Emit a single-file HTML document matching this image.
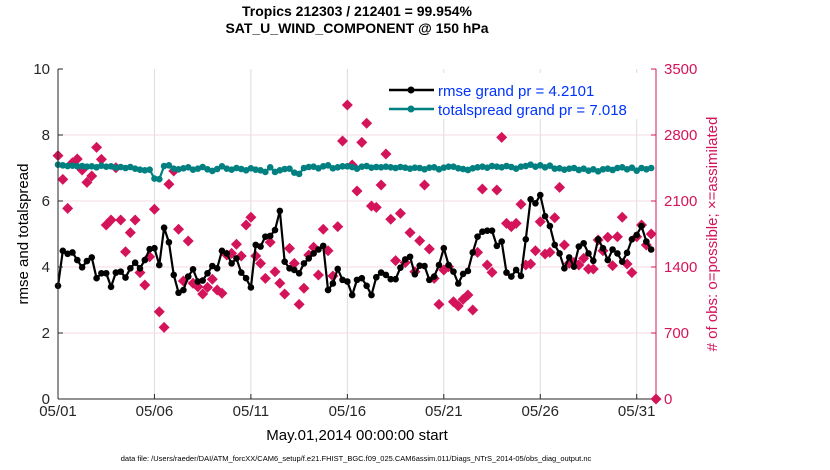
<!DOCTYPE html>
<html><head><meta charset="utf-8"><style>
body{margin:0;background:#fff;}
svg{display:block;font-family:"Liberation Sans",sans-serif;}
</style></head><body>
<svg id="chart" width="830" height="470" viewBox="0 0 830 470" xmlns="http://www.w3.org/2000/svg">
<rect width="830" height="470" fill="#fff"/>
<text x="357" y="16" text-anchor="middle" font-size="14" font-weight="bold">Tropics 212303 / 212401 = 99.954%</text>
<text x="357" y="33" text-anchor="middle" font-size="14" font-weight="bold">SAT_U_WIND_COMPONENT @ 150 hPa</text>
<g id="grid"></g>
<g id="marks"></g>
<g id="axes"></g>
<g>
<rect x="384" y="73" width="268" height="46" fill="#fff"/>
<line x1="389" y1="90" x2="434" y2="90" stroke="#000" stroke-width="2.5"/>
<circle cx="411" cy="90" r="3.5" fill="#000"/>
<text x="438" y="96" font-size="15" fill="#0033ff">rmse grand pr = 4.2101</text>
<line x1="389" y1="109" x2="434" y2="109" stroke="#008080" stroke-width="2.5"/>
<circle cx="411" cy="109" r="3.5" fill="#008080"/>
<text x="438" y="115" font-size="15" fill="#0033ff">totalspread grand pr = 7.018</text>
</g>
<text x="357" y="440" text-anchor="middle" font-size="15">May.01,2014 00:00:00 start</text>
<text transform="translate(28,234) rotate(-90)" text-anchor="middle" font-size="15">rmse and totalspread</text>
<text transform="translate(717,234) rotate(-90)" text-anchor="middle" font-size="15" fill="#d4145a"># of obs: o=possible; ×=assimilated</text>
<text x="356" y="461" text-anchor="middle" font-size="7.5">data file: /Users/raeder/DAI/ATM_forcXX/CAM6_setup/f.e21.FHIST_BGC.f09_025.CAM6assim.011/Diags_NTrS_2014-05/obs_diag_output.nc</text>
</svg>
<script>
const xTickLabels = ["05/01","05/06","05/11","05/16","05/21","05/26","05/31"];
const xTickDays = [0,5,10,15,20,25,30];
const leftTicks = [0,2,4,6,8,10];
const rightTicks = [0,700,1400,2100,2800,3500];
const rmse = [3.43,4.49,4.40,4.44,4.21,3.99,4.18,4.29,3.66,3.81,3.81,3.40,3.83,3.86,3.68,3.96,4.13,3.96,4.21,4.54,4.57,4.06,5.19,4.75,3.76,3.22,3.30,3.71,3.93,3.56,3.59,3.81,4.03,3.96,4.49,4.41,4.11,4.26,3.83,3.66,3.38,4.67,4.62,4.92,4.94,5.12,5.70,4.16,3.96,3.91,3.81,4.11,4.26,4.41,4.53,4.64,3.30,3.50,3.94,3.61,3.56,3.15,3.61,3.66,3.43,3.15,3.69,3.83,3.76,3.63,3.63,3.98,4.23,4.31,3.78,4.04,4.03,3.61,3.71,4.06,4.57,4.06,3.86,3.50,3.79,3.88,4.44,4.92,5.07,5.10,5.10,4.64,4.77,3.83,3.71,3.91,3.73,4.84,6.05,5.93,6.18,5.54,5.24,4.67,4.41,3.96,4.29,4.01,4.62,4.72,4.41,4.19,4.84,4.57,4.21,4.53,4.41,4.16,4.43,4.84,4.97,5.24,4.77,4.53];
const spread = [7.10,7.08,7.06,7.07,7.05,7.06,7.04,7.05,7.02,7.07,7.04,7.05,7.01,7.03,7.00,7.03,6.98,6.95,6.93,6.95,6.68,6.66,7.06,7.08,6.98,6.96,6.99,7.02,6.95,6.98,7.03,6.96,6.91,6.97,7.05,6.98,6.95,7.00,6.97,6.93,6.99,6.95,6.93,6.88,7.02,6.88,6.93,6.97,6.98,6.86,6.82,7.00,7.03,7.04,6.99,7.05,7.08,6.99,7.02,7.05,7.05,7.03,6.98,7.04,7.06,7.01,7.03,7.02,7.04,7.02,7.00,7.03,7.01,6.98,7.01,7.00,6.96,7.01,7.02,6.96,7.01,7.04,7.04,6.99,6.97,6.94,6.99,7.02,7.04,7.01,7.06,7.04,7.02,7.06,7.03,6.98,7.04,7.06,7.10,7.04,7.08,7.02,7.07,6.98,6.99,6.95,6.98,7.00,6.94,6.98,6.92,6.96,6.90,6.96,6.98,6.94,7.00,7.02,6.96,7.01,6.92,7.00,6.96,7.00];
const obsCount = [2581,2330,2022,2506,2545,2429,2298,2365,2669,2542,1845,1898,2453,1898,1562,1764,1898,1340,1209,1509,2012,926,760,2277,2418,1800,1252,1676,1227,1191,1114,1184,1270,1156,1121,1527,1545,1641,1517,1845,1927,1517,1439,1280,1662,1350,1227,1114,1598,1439,1004,1174,1527,1609,1315,1800,1573,1305,1828,2736,3118,2482,2206,2722,2924,2047,2033,2270,2598,1906,1467,1969,1446,1764,1350,1679,2270,1591,1280,1004,1368,1403,1032,986,1057,1103,944,1555,2227,1421,1343,2217,2775,1863,1828,1863,2065,1421,1432,1573,1880,1538,1555,1923,2245,1633,1439,1449,1421,1492,1379,1379,1686,1573,1715,1414,1721,1927,1432,1340,1721,1845,1633,1750,0];

const NS="http://www.w3.org/2000/svg";
const X0=58,X1=656,Y0=399,Y1=69;
const xScale=d=>X0+(d/31)*(X1-X0);
const yL=v=>Y0-(v/10)*(Y0-Y1);
const yR=c=>Y0-(c/3500)*(Y0-Y1);
function mk(tag,attrs,parent){const e=document.createElementNS(NS,tag);for(const k in attrs)e.setAttribute(k,attrs[k]);parent.appendChild(e);return e;}
const grid=document.getElementById('grid'),marks=document.getElementById('marks'),axes=document.getElementById('axes');

xTickDays.forEach(d=>{const l=mk('line',{x1:xScale(d),x2:xScale(d),y1:Y1,y2:Y0,stroke:'#dcdcdc','stroke-width':1},grid);

});
rightTicks.forEach(c=>{if(c===0||c===3500)return;const l=mk('line',{x1:X0,x2:X1,y1:yR(c),y2:yR(c),stroke:'#f5dbe4','stroke-width':1},grid);

});

obsCount.forEach((c,i)=>{const x=xScale(i*0.25),y=yR(c),s=5.5;
const p=mk('polygon',{points:`${x},${y-s} ${x+s},${y} ${x},${y+s} ${x-s},${y}`,fill:'#d4145a'},marks);

});

function series(vals,color,name){
const pts=vals.map((v,i)=>`${xScale(i*0.25)},${yL(v)}`).join(' ');
const pl=mk('polyline',{points:pts,fill:'none',stroke:color,'stroke-width':2.2,'stroke-linejoin':'round'},marks);


vals.forEach((v,i)=>{const c=mk('circle',{cx:xScale(i*0.25),cy:yL(v),r:3.3,fill:color},marks);

});
}
series(spread,'#008080','totalspread');
series(rmse,'#000000','rmse');

mk('line',{x1:X0,x2:X0,y1:Y1,y2:Y0,stroke:'#262626','stroke-width':1},axes);
mk('line',{x1:X0,x2:X1,y1:Y0,y2:Y0,stroke:'#262626','stroke-width':1},axes);
mk('line',{x1:X1,x2:X1,y1:Y1,y2:Y0,stroke:'#d4145a','stroke-width':1},axes);
xTickDays.forEach((d,i)=>{const x=xScale(d);
mk('line',{x1:x,x2:x,y1:Y0,y2:Y0-5,stroke:'#262626'},axes);
const t=mk('text',{x:x,y:416,'text-anchor':'middle','font-size':15,fill:'#262626'},axes);t.textContent=xTickLabels[i];

});
leftTicks.forEach(v=>{const y=yL(v);
mk('line',{x1:X0,x2:X0+5,y1:y,y2:y,stroke:'#262626'},axes);
const t=mk('text',{x:50,y:y+5,'text-anchor':'end','font-size':15,fill:'#262626'},axes);t.textContent=v;

});
rightTicks.forEach(c=>{const y=yR(c);
mk('line',{x1:X1,x2:X1-5,y1:y,y2:y,stroke:'#d4145a'},axes);
const t=mk('text',{x:664,y:y+5,'font-size':15,fill:'#d4145a'},axes);t.textContent=c;

});
</script>
</body></html>
